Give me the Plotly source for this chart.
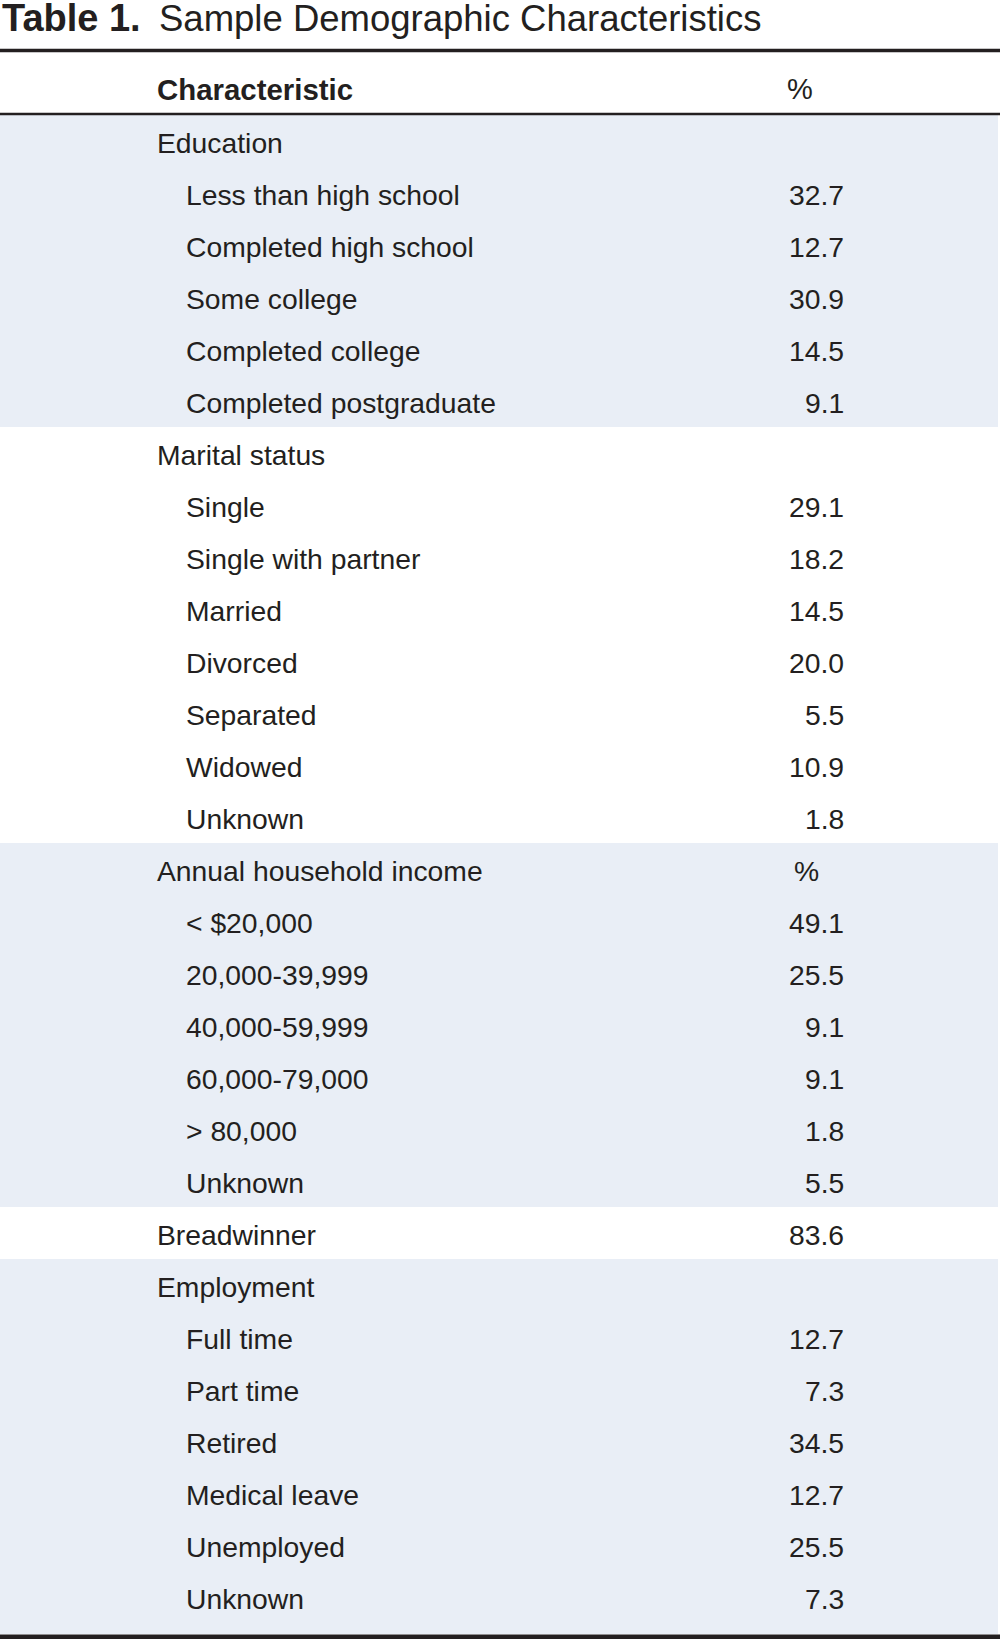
import plotly.graph_objects as go

# ---- data ----
title_bold = "Table 1."
title_text = "Sample Demographic Characteristics"
header_label = "Characteristic"
header_value = "%"

education_labels = ["Less than high school", "Completed high school", "Some college",
                    "Completed college", "Completed postgraduate"]
education_values = ["32.7", "12.7", "30.9", "14.5", "9.1"]

marital_labels = ["Single", "Single with partner", "Married", "Divorced",
                  "Separated", "Widowed", "Unknown"]
marital_values = ["29.1", "18.2", "14.5", "20.0", "5.5", "10.9", "1.8"]

income_labels = ["&lt; $20,000", "20,000-39,999", "40,000-59,999", "60,000-79,000",
                 "&gt; 80,000", "Unknown"]
income_values = ["49.1", "25.5", "9.1", "9.1", "1.8", "5.5"]

breadwinner_value = "83.6"

employment_labels = ["Full time", "Part time", "Retired", "Medical leave",
                     "Unemployed", "Unknown"]
employment_values = ["12.7", "7.3", "34.5", "12.7", "25.5", "7.3"]

groups = [
    ("Education", "", education_labels, education_values, True),
    ("Marital status", "", marital_labels, marital_values, False),
    ("Annual household income", "%", income_labels, income_values, True),
    ("Breadwinner", breadwinner_value, [], [], False),
    ("Employment", "", employment_labels, employment_values, True),
]

# ---- layout constants ----
W, H = 1000, 1639
ROW_H = 52.0
TOP = 115.0
TEXT_DY = 2.0
X_GROUP = 154.5
X_ITEM = 184
X_VAL = 846
X_PCT = 806
BAND = "#E9EEF6"
INK = "#231F20"
FONT = "Liberation Sans, Arial, sans-serif"
FS = 28.3

fig = go.Figure()
# invisible trace to establish axes
fig.add_trace(go.Scatter(x=[0, W], y=[0, H], mode="markers",
                         marker=dict(opacity=0), hoverinfo="skip", showlegend=False))

shapes = []
annotations = []

def ann(x, y, text, anchor="left", size=FS, bold=False, yanchor="middle"):
    t = f"<b>{text}</b>" if bold else text
    annotations.append(dict(x=x, y=y, xref="x", yref="y", text=t, showarrow=False,
                            xanchor=anchor, yanchor=yanchor,
                            font=dict(family=FONT, size=size, color=INK)))

row = 0
for gi, (name, gval, labels, values, shaded) in enumerate(groups):
    n = 1 + len(labels)
    y0 = TOP + row * ROW_H
    y1 = y0 + n * ROW_H
    if gi == len(groups) - 1:
        y1 = 1634
    if shaded:
        shapes.append(dict(type="rect", xref="x", yref="y", x0=0, x1=998, y0=y0, y1=y1,
                           fillcolor=BAND, line=dict(width=0), layer="below"))
    yc = y0 + ROW_H / 2 + TEXT_DY
    ann(X_GROUP, yc, name)
    if gval == "%":
        ann(X_PCT, yc, gval, anchor="center")
    elif gval:
        ann(X_VAL, yc, gval, anchor="right")
    for i, (lab, val) in enumerate(zip(labels, values)):
        yc = y0 + ROW_H * (i + 1) + ROW_H / 2 + TEXT_DY
        ann(X_ITEM, yc, lab)
        ann(X_VAL, yc, val, anchor="right")
    row += n

# rules
shapes.append(dict(type="line", xref="x", yref="y", x0=0, x1=1000, y0=50.5, y1=50.5,
                   line=dict(color=INK, width=3.5)))
shapes.append(dict(type="line", xref="x", yref="y", x0=0, x1=1000, y0=114, y1=114,
                   line=dict(color=INK, width=2.5)))
shapes.append(dict(type="line", xref="x", yref="y", x0=0, x1=1000, y0=1637, y1=1637,
                   line=dict(color=INK, width=5)))

# header
ann(X_GROUP, 89, header_label, bold=True, size=29.4)
ann(800, 89, header_value, anchor="center", size=29)

# title
ann(0, 18, title_bold, bold=True, size=38)
ann(157, 18, title_text, size=36.5)

fig.update_layout(
    width=W, height=H,
    margin=dict(l=0, r=0, t=0, b=0),
    paper_bgcolor="white", plot_bgcolor="white",
    xaxis=dict(range=[0, W], visible=False, fixedrange=True),
    yaxis=dict(range=[H, 0], visible=False, fixedrange=True),
    shapes=shapes, annotations=annotations,
    showlegend=False,
)

fig.write_html("out.html",
               config={"displayModeBar": False},
               post_script="document.body.style.margin='0px';document.body.style.overflow='hidden';")
